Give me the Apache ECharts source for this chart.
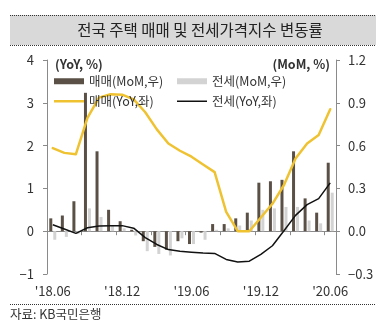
<!DOCTYPE html>
<html>
<head>
<meta charset="utf-8">
<script src="https://cdn.jsdelivr.net/npm/echarts@6/dist/echarts.min.js"></script>
<style>
  html, body { margin: 0; padding: 0; background: #fff; }
  #chart { width: 384px; height: 336px; }
</style>
</head>
<body>
<div id="chart"></div>
<script>
// Monthly categories, 2018.06 – 2020.06
const months = ["'18.06", "'18.07", "'18.08", "'18.09", "'18.10", "'18.11", "'18.12",
                "'19.01", "'19.02", "'19.03", "'19.04", "'19.05", "'19.06", "'19.07",
                "'19.08", "'19.09", "'19.10", "'19.11", "'19.12", "'20.01", "'20.02",
                "'20.03", "'20.04", "'20.05", "'20.06"];

// 매매 MoM (%, right axis)
const saleMoM = [0.09, 0.11, 0.21, 0.97, 0.56, 0.15, 0.07, 0.01, -0.07, -0.11, -0.13, -0.07, -0.09,
                 -0.01, 0.05, 0.05, 0.09, 0.13, 0.34, 0.35, 0.36, 0.56, 0.23, 0.13, 0.48];
// 전세 MoM (%, right axis)
const rentMoM = [-0.06, -0.04, -0.02, 0.16, 0.10, 0.04, 0.02, -0.03, -0.14, -0.16, -0.17, -0.05, -0.09,
                 -0.06, 0.01, 0.02, 0.04, 0.075, 0.15, 0.16, 0.17, 0.17, 0.075, 0.055, 0.27];
// 매매 YoY (%, left axis)
const saleYoY = [1.94, 1.83, 1.80, 2.65, 3.12, 3.20, 3.19, 3.08, 2.78, 2.38, 2.05, 1.88, 1.74,
                 1.56, 1.38, 0.45, 0.0, 0.0, 0.32, 0.64, 1.08, 1.70, 2.05, 2.25, 2.85];
// 전세 YoY (%, left axis)
const rentYoY = [0.15, 0.05, -0.05, 0.08, 0.12, 0.13, 0.13, 0.07, -0.15, -0.31, -0.43, -0.47, -0.49,
                 -0.51, -0.52, -0.66, -0.72, -0.70, -0.54, -0.34, 0.01, 0.37, 0.62, 0.76, 1.13];

// Axis ranges
const leftAxis = { min: -1, max: 4, step: 1 };
const rightAxis = { min: -0.3, max: 1.2, step: 0.3 };

const FONT = "'Noto Sans CJK KR', 'Noto Sans', sans-serif";
const AXIS_GREY = '#8a8a8a';
const TEXT = '#333';
const SALE_BAR = '#5a5046';
const RENT_BAR = '#d3d3d3';
const SALE_LINE = '#efc232';
const RENT_LINE = '#111';
const minus = s => String(s).replace('-', '\u2212');

const chart = echarts.init(document.getElementById('chart'));

const legendBase = {
  padding: 0,
  itemWidth: 30,
  selectedMode: false,
  icon: 'rect',
  textStyle: { fontSize: 12.5, color: TEXT, fontFamily: FONT }
};

chart.setOption({
  animation: false,
  textStyle: { fontFamily: FONT },
  grid: { left: 47, right: 48, top: 60, bottom: 62 },
  xAxis: [
    {
      type: 'category', data: months, position: 'bottom',
      axisLine: { show: false, onZero: false },
      axisTick: { show: false },
      axisLabel: { interval: 5, margin: 11, fontSize: 13, color: TEXT, fontFamily: FONT }
    },
    {
      type: 'category', data: months, position: 'top',
      axisLine: { show: true, onZero: true, lineStyle: { color: AXIS_GREY, width: 1 } },
      axisTick: { show: true, interval: 2, inside: true, length: 4, lineStyle: { color: AXIS_GREY } },
      axisLabel: { show: false }
    }
  ],
  yAxis: [
    {
      type: 'value', position: 'left',
      min: leftAxis.min, max: leftAxis.max, interval: leftAxis.step,
      axisLine: { show: true, lineStyle: { color: AXIS_GREY } },
      axisTick: { show: true, length: 4, lineStyle: { color: AXIS_GREY } },
      splitLine: { show: false },
      axisLabel: { margin: 13, fontSize: 13, color: TEXT, fontFamily: FONT, formatter: v => minus(v) }
    },
    {
      type: 'value', position: 'right',
      min: rightAxis.min, max: rightAxis.max, interval: rightAxis.step,
      axisLine: { show: true, lineStyle: { color: AXIS_GREY } },
      axisTick: { show: true, length: 4, lineStyle: { color: AXIS_GREY } },
      splitLine: { show: false },
      axisLabel: { margin: 12, fontSize: 13, color: TEXT, fontFamily: FONT, formatter: v => minus(v.toFixed(1)) }
    }
  ],
  legend: [
    Object.assign({}, legendBase, { data: ['매매(MoM,우)'], left: 54, top: 75, itemHeight: 6 }),
    Object.assign({}, legendBase, { data: ['전세(MoM,우)'], left: 177, top: 75, itemHeight: 6 }),
    Object.assign({}, legendBase, { data: ['매매(YoY,좌)'], left: 54, top: 95, itemHeight: 2.5 }),
    Object.assign({}, legendBase, { data: ['전세(YoY,좌)'], left: 177, top: 95, itemHeight: 1.5 })
  ],
  series: [
    {
      name: '매매(MoM,우)', type: 'bar', xAxisIndex: 0, yAxisIndex: 1,
      data: saleMoM, barWidth: 3, barGap: '33%',
      itemStyle: { color: SALE_BAR }
    },
    {
      name: '전세(MoM,우)', type: 'bar', xAxisIndex: 0, yAxisIndex: 1,
      data: rentMoM, barWidth: 3,
      itemStyle: { color: RENT_BAR }
    },
    {
      name: '매매(YoY,좌)', type: 'line', xAxisIndex: 0, yAxisIndex: 0,
      data: saleYoY, symbol: 'none',
      lineStyle: { color: SALE_LINE, width: 2.5, cap: 'round', join: 'round' },
      itemStyle: { color: SALE_LINE }
    },
    {
      name: '전세(YoY,좌)', type: 'line', xAxisIndex: 0, yAxisIndex: 0,
      data: rentYoY, symbol: 'none',
      lineStyle: { color: RENT_LINE, width: 1.5, join: 'round' },
      itemStyle: { color: RENT_LINE }
    }
  ],
  graphic: [
    { type: 'rect', z: 0, shape: { x: 10, y: 15, width: 366, height: 30 }, style: { fill: '#d9d9d9' } },
    { type: 'line', shape: { x1: 10, y1: 15.5, x2: 376, y2: 15.5 }, style: { stroke: '#333', lineWidth: 1, lineDash: [1, 1] } },
    { type: 'line', shape: { x1: 10, y1: 45.5, x2: 376, y2: 45.5 }, style: { stroke: '#333', lineWidth: 1, lineDash: [1, 1] } },
    {
      type: 'text', x: 200, y: 30,
      style: { text: '전국 주택 매매 및 전세가격지수 변동률', fontSize: 15.5, fontFamily: FONT, fill: '#222', align: 'center', verticalAlign: 'middle' }
    },
    {
      type: 'text', x: 55, y: 64.5,
      style: { text: '(YoY, %)', fontSize: 12.5, fontWeight: 'bold', fontFamily: FONT, fill: TEXT, align: 'left', verticalAlign: 'middle' }
    },
    {
      type: 'text', x: 330, y: 64,
      style: { text: '(MoM, %)', fontSize: 12.5, fontWeight: 'bold', fontFamily: FONT, fill: TEXT, align: 'right', verticalAlign: 'middle' }
    },
    { type: 'line', shape: { x1: 10, y1: 304.5, x2: 375, y2: 304.5 }, style: { stroke: '#333', lineWidth: 1, lineDash: [1, 1] } },
    {
      type: 'text', x: 10, y: 314,
      style: { text: '자료: KB국민은행', fontSize: 12.5, fontFamily: FONT, fill: TEXT, align: 'left', verticalAlign: 'middle' }
    }
  ]
});
</script>
</body>
</html>
